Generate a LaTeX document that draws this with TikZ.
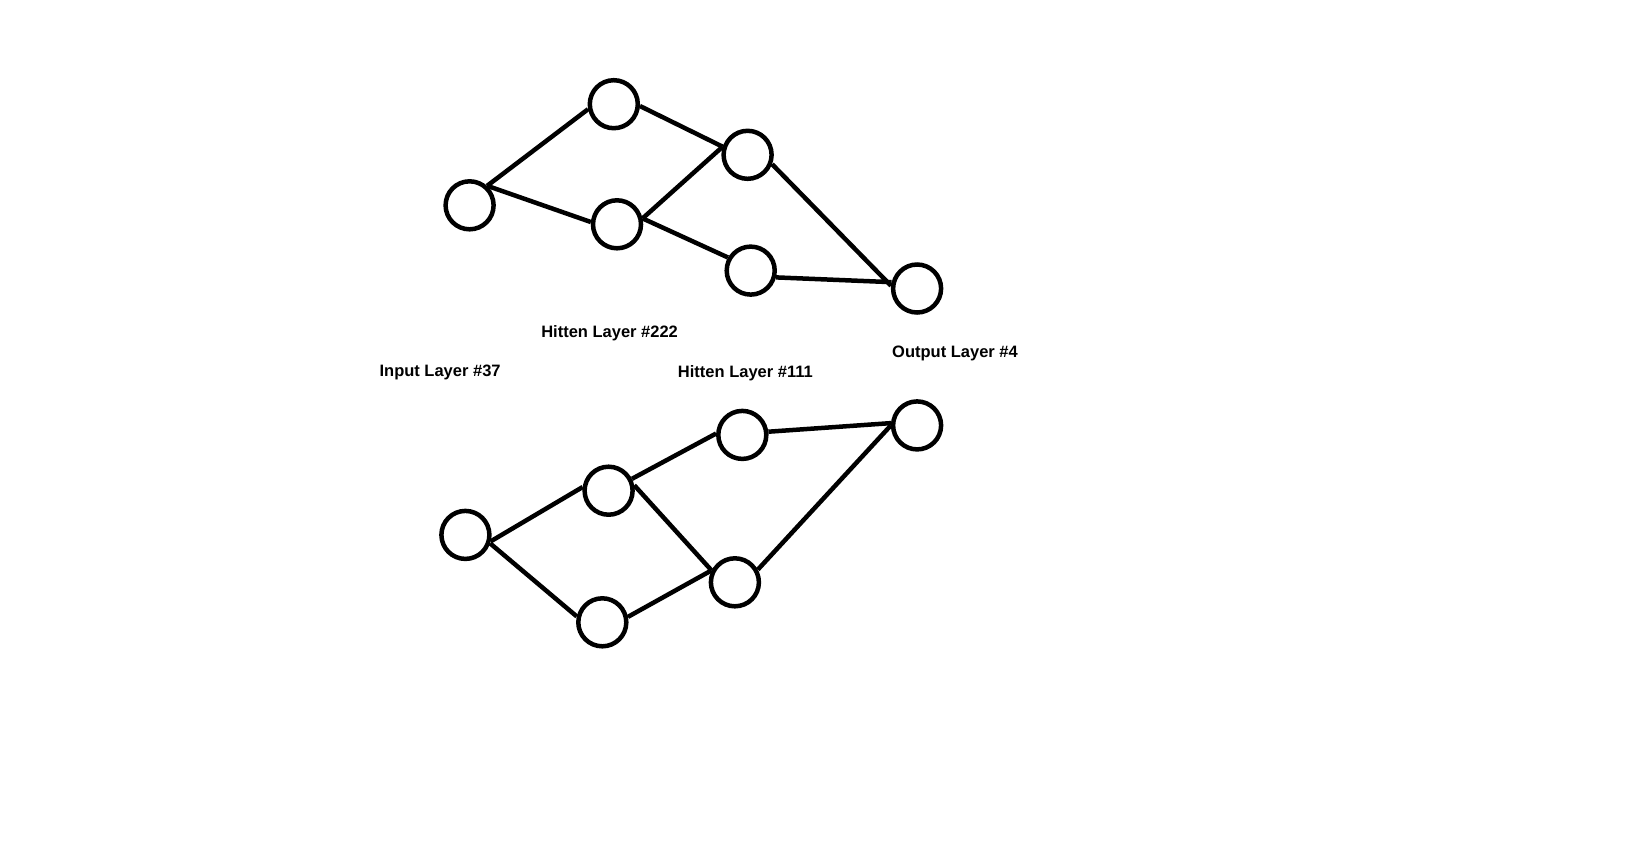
\documentclass[tikz,border=0pt]{standalone}
\usepackage{fontspec}
\setmainfont{Liberation Sans}
\begin{document}
\begin{tikzpicture}[x=1pt,y=-1pt,
  neuron/.style={circle,draw=black,line width=4.5pt,minimum size=48pt,inner sep=0pt},
  link/.style={line width=4.5pt,draw=black},
  lbl/.style={font=\bfseries\fontsize{16.5}{20}\selectfont,inner sep=0pt}]
\useasboundingbox[fill=white] (0,0) rectangle (1651,860);
% top network
\node[neuron] (ti) at (469.6,205.3) {};
\node[neuron] (ta) at (613.8,104.2) {};
\node[neuron] (tb) at (617.0,224.3) {};
\node[neuron] (tc) at (747.6,154.8) {};
\node[neuron] (td) at (750.7,270.6) {};
\node[neuron] (to) at (917.1,288.5) {};
\draw[link] (ti.48) -- (ta.-169);
\draw[link] (ti.48) -- (tb.175);
\draw[link] (ta.-4) -- (tc.162);
\draw[link] (tb.13) -- (tc.162);
\draw[link] (tb.13) -- (td.150);
\draw[link] (tc.-21) -- (to.174);
\draw[link] (td.-15) -- (to.166);
% bottom network
\node[neuron] (bi) at (465.4,534.9) {};
\node[neuron] (ba) at (608.6,490.7) {};
\node[neuron] (bb) at (602.3,622.3) {};
\node[neuron] (bc) at (742.3,434.9) {};
\node[neuron] (bd) at (734.9,582.3) {};
\node[neuron] (bo) at (917.1,425.4) {};
\draw[link] (bi.-14) -- (ba.172);
\draw[link] (bi.-19) -- (bb.167);
\draw[link] (ba.27) -- (bc.177);
\draw[link] (ba.12) -- (bd.153);
\draw[link] (bb.12) -- (bd.153);
\draw[link] (bc.7) -- (bo.175);
\draw[link] (bd.29) -- (bo.180);
% labels
\node[lbl] (l222) at (609.6,333.6) {Hitten Layer \#222};
\node[lbl] (l37) at (440.1,372.6) {Input Layer \#37};
\node[lbl] (l111) at (745.4,373.6) {Hitten Layer \#111};
\node[lbl] (l4) at (955.0,353.6) {Output Layer \#4};
\end{tikzpicture}
\end{document}
